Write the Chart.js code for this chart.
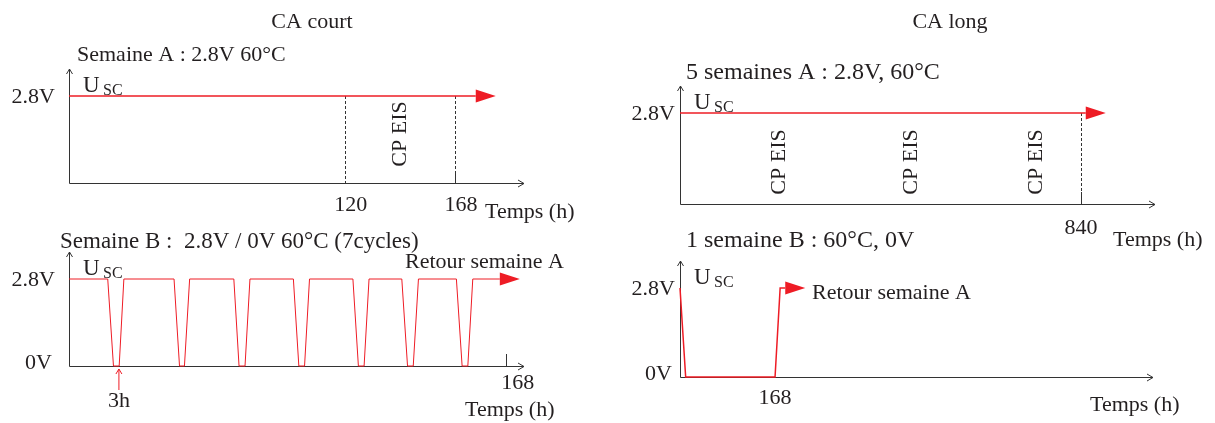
<!DOCTYPE html>
<html>
<head>
<meta charset="utf-8">
<script src="https://cdn.jsdelivr.net/npm/chart.js@4"></script>
<style>
  body { margin: 0; background: #fff; }
  #wrap { position: relative; width: 1215px; height: 423px; }
  canvas { position: absolute; left: 0; top: 0; }
</style>
</head>
<body>
<div id="wrap">
  <canvas id="courtA" width="1215" height="423"></canvas>
  <canvas id="courtB" width="1215" height="423"></canvas>
  <canvas id="longA" width="1215" height="423"></canvas>
  <canvas id="longB" width="1215" height="423"></canvas>
</div>
<script>
// CA court - semaine A (h, V)
const courtATime = [0, 177];
const courtAVolt = [2.8, 2.8];
const courtAMarkers = [120, 168];
const courtATicks = [120, 168];

// CA court - semaine B, 7 cycles 2.8V / 0V
const courtBTime = [0, 14.9, 17.1, 19.3, 21.1, 40.4, 42.5, 44.4, 46.4, 63.4, 65.4, 67.7, 69.6,
  86.3, 88.4, 90.6, 92.5, 109.2, 111.3, 113.5, 115.4, 128.0, 130.2, 132.4, 134.4,
  149.0, 151.2, 153.4, 155.3, 165.7];
const courtBVolt = [2.8, 2.8, 0, 0, 2.8, 2.8, 0, 0, 2.8, 2.8, 0, 0, 2.8,
  2.8, 0, 0, 2.8, 2.8, 0, 0, 2.8, 2.8, 0, 0, 2.8,
  2.8, 0, 0, 2.8, 2.8];
const courtBTicks = [168];
const courtBPulse = 19.2; // 3h

// CA long - 5 semaines A
const longATime = [0, 850];
const longAVolt = [2.8, 2.8];
const longAMarkers = [840];
const longATicks = [840];
const longAEis = [207, 484, 746];

// CA long - 1 semaine B
const longBTime = [0, 10, 168, 177, 186];
const longBVolt = [2.8, 0, 0, 2.8, 2.8];
const longBTicks = [168];

const W = 1215, H = 423;
const RED = '#ee1c25';
const INK = '#231f20';
const FONT = '"Liberation Serif", "Times New Roman", serif';

function text(ctx, s, x, y, align, size) {
  ctx.font = (size || 22) + 'px ' + FONT;
  ctx.fillStyle = INK;
  ctx.textAlign = align || 'left';
  ctx.textBaseline = 'middle';
  ctx.fillText(s, x, y);
}

function schemaPlugin(cfg) {
  return {
    id: 'schema',
    beforeDatasetsDraw(chart) {
      const ctx = chart.ctx, a = chart.chartArea;
      const xs = chart.scales.x;
      ctx.save();
      ctx.strokeStyle = '#333';
      ctx.lineWidth = 1;
      // axes
      ctx.beginPath();
      ctx.moveTo(a.left + 0.5, a.bottom + 0.5);
      ctx.lineTo(a.right, a.bottom + 0.5);
      ctx.moveTo(a.left + 0.5, a.bottom + 0.5);
      ctx.lineTo(a.left + 0.5, a.top - 27);
      // arrow heads
      ctx.moveTo(a.right - 6, a.bottom - 3);
      ctx.lineTo(a.right, a.bottom + 0.5);
      ctx.lineTo(a.right - 6, a.bottom + 4);
      ctx.moveTo(a.left - 2.5, a.top - 22);
      ctx.lineTo(a.left + 0.5, a.top - 27);
      ctx.lineTo(a.left + 3.5, a.top - 22);
      ctx.stroke();
      // dashed markers
      ctx.setLineDash([3, 2]);
      (cfg.markers || []).forEach(m => {
        const x = Math.round(xs.getPixelForValue(m)) + 0.5;
        ctx.beginPath();
        ctx.moveTo(x, a.top);
        ctx.lineTo(x, a.bottom);
        ctx.stroke();
      });
      ctx.setLineDash([]);
      // end ticks
      (cfg.ticks || []).forEach(t => {
        if (!cfg.endTick || cfg.endTick.indexOf(t) < 0) return;
        const x = Math.round(xs.getPixelForValue(t)) + 0.5;
        ctx.beginPath();
        ctx.moveTo(x, a.bottom - 12);
        ctx.lineTo(x, a.bottom);
        ctx.stroke();
      });
      ctx.restore();
    },
    afterDatasetsDraw(chart) {
      const ctx = chart.ctx, a = chart.chartArea;
      const xs = chart.scales.x, ys = chart.scales.y;
      const t = cfg.time, v = cfg.volt;
      ctx.save();
      // red arrow head at end of the signal
      const ex = xs.getPixelForValue(t[t.length - 1]);
      const ey = ys.getPixelForValue(v[v.length - 1]);
      ctx.fillStyle = RED;
      ctx.beginPath();
      ctx.moveTo(ex, ey - 6.5);
      ctx.lineTo(ex + 20, ey);
      ctx.lineTo(ex, ey + 6.5);
      ctx.closePath();
      ctx.fill();
      // pulse width arrow
      if (cfg.pulse !== undefined) {
        const px = xs.getPixelForValue(cfg.pulse);
        ctx.strokeStyle = RED;
        ctx.lineWidth = 1;
        ctx.beginPath();
        ctx.moveTo(px, a.bottom + 24);
        ctx.lineTo(px, a.bottom + 3);
        ctx.moveTo(px - 3, a.bottom + 8);
        ctx.lineTo(px, a.bottom + 3);
        ctx.lineTo(px + 3, a.bottom + 8);
        ctx.stroke();
        text(ctx, '3h', px, a.bottom + 35, 'center');
      }
      // y labels
      text(ctx, '2.8V', a.left - cfg.yLabelGap, ys.getPixelForValue(2.8) + 1, 'right');
      if (cfg.zeroLabel) text(ctx, '0V', a.left - cfg.yLabelGap - 3, ys.getPixelForValue(0) - 3, 'right');
      // U_SC
      text(ctx, 'U', a.left + 14, a.top - 10, 'left', 23);
      text(ctx, 'SC', a.left + 34, a.top - 5, 'left', 16);
      // x labels
      (cfg.ticks || []).forEach(tk => {
        text(ctx, String(tk), xs.getPixelForValue(tk) + cfg.tickShift, a.bottom + cfg.tickGap, 'center');
      });
      // CP EIS rotated
      const eis = cfg.eis || [];
      eis.forEach(e => {
        ctx.save();
        ctx.translate(xs.getPixelForValue(e), cfg.eisY);
        ctx.rotate(-Math.PI / 2);
        text(ctx, 'CP EIS', 0, 0, 'center');
        ctx.restore();
      });
      (cfg.texts || []).forEach(s => text(ctx, s[0], s[1], s[2], s[3] || 'left', s[4]));
      ctx.restore();
    }
  };
}

function panel(id, cfg) {
  new Chart(document.getElementById(id), {
    type: 'line',
    data: {
      datasets: [{
        data: cfg.time.map((t, i) => ({ x: t, y: cfg.volt[i] })),
        borderColor: RED,
        borderWidth: cfg.lineWidth,
        pointRadius: 0,
        tension: 0,
        clip: false
      }]
    },
    options: {
      responsive: false,
      animation: false,
      layout: { padding: { left: cfg.area[0], top: cfg.area[1], right: W - cfg.area[2], bottom: H - cfg.area[3] } },
      scales: {
        x: { type: 'linear', display: false, min: 0, max: cfg.xMax },
        y: { display: false, min: 0, max: 2.8 }
      },
      plugins: { legend: { display: false }, tooltip: { enabled: false } }
    },
    plugins: [schemaPlugin(cfg)]
  });
}

panel('courtA', {
  area: [69, 96, 524, 183], xMax: 198, lineWidth: 1.5,
  time: courtATime, volt: courtAVolt, markers: courtAMarkers, ticks: courtATicks, endTick: [168],
  tickShift: 6, tickGap: 22, yLabelGap: 14, eis: [144], eisY: 134,
  texts: [['CA court', 312, 22, 'center'], ['Semaine A : 2.8V 60°C', 77, 55], ['Temps (h)', 485, 212]]
});

panel('courtB', {
  area: [69, 279, 524, 366], xMax: 175, lineWidth: 1,
  time: courtBTime, volt: courtBVolt, ticks: courtBTicks, endTick: [168], pulse: courtBPulse,
  tickShift: 12, tickGap: 17, yLabelGap: 14, zeroLabel: true,
  texts: [['Semaine B :  2.8V / 0V 60°C (7cycles)', 60, 242, 'left', 23], ['Retour semaine A', 405, 262], ['Temps (h)', 465, 410]]
});

panel('longA', {
  area: [680, 113, 1155, 204], xMax: 995, lineWidth: 1.5,
  time: longATime, volt: longAVolt, markers: longAMarkers, ticks: longATicks, endTick: [840],
  tickShift: 0, tickGap: 24, yLabelGap: 5, eis: longAEis, eisY: 162,
  texts: [['CA long', 950, 22, 'center'], ['5 semaines A : 2.8V, 60°C', 686, 73, 'left', 24], ['Temps (h)', 1113, 240]]
});

panel('longB', {
  area: [680, 288, 1153, 377], xMax: 836, lineWidth: 1.5,
  time: longBTime, volt: longBVolt, ticks: longBTicks,
  tickShift: 0, tickGap: 21, yLabelGap: 5, zeroLabel: true,
  texts: [['1 semaine B : 60°C, 0V', 686, 241, 'left', 24], ['Retour semaine A', 812, 293], ['Temps (h)', 1090, 405]]
});
</script>
</body>
</html>
